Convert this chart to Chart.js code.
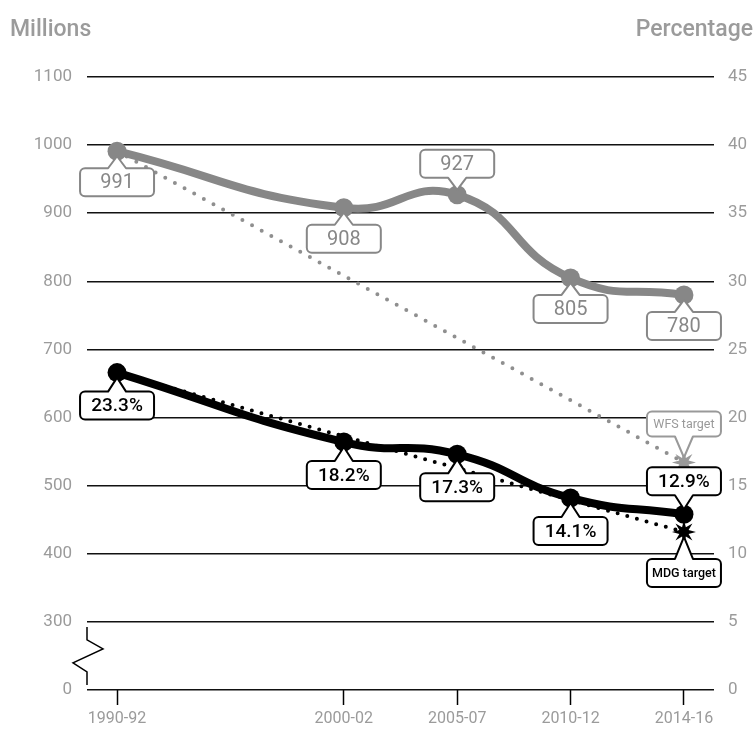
<!DOCTYPE html>
<html>
<head>
<meta charset="utf-8">
<script src="https://cdn.jsdelivr.net/npm/chart.js@4.4.1/dist/chart.umd.min.js"></script>
<style>
  body { margin: 0; background: #fff; }
  #wrap { width: 754px; height: 729px; }
</style>
</head>
<body>
<div id="wrap"><canvas id="hungerChart" width="754" height="729"></canvas></div>
<script>
// periods on the time axis (position counts 5-year steps, 1995-97 left blank)
const periods = ['1990-92', '2000-02', '2005-07', '2010-12', '2014-16'];
const periodPos = [0, 2, 3, 4, 5];

// undernourished people, millions (left axis)
const undernourished = [991, 908, 927, 805, 780];
// prevalence of undernourishment, % (right axis)
const prevalence = [23.3, 18.2, 17.3, 14.1, 12.9];

// targets for 2014-16
const wfsTarget = 534;   // millions
const mdgTarget = 11.6;  // percent

const leftTicks = [200, 300, 400, 500, 600, 700, 800, 900, 1000, 1100];
const leftTickLabels = ['0', '300', '400', '500', '600', '700', '800', '900', '1000', '1100'];

const GREY = '#878787';
const LABEL_GREY = '#9b9b9b';
const FONT = 'Roboto, "DejaVu Sans", sans-serif';

function pts(ys) {
    return ys.map((y, i) => ({ x: periodPos[i], y: y }));
}

// rounded box with a little pointer towards (px, py)
function callout(ctx, px, py, side, w, h, gap, color, text, font) {
    const x0 = px - w / 2;
    const r = 5;
    const nw = 9;
    let top, apexY;
    if (side === 'below') {
        top = py + gap;
        apexY = py + 5;
    } else {
        top = py - gap - h;
        apexY = py - 5;
    }
    const bot = top + h;
    ctx.save();
    ctx.beginPath();
    ctx.moveTo(x0 + r, top);
    if (side === 'below') {
        ctx.lineTo(px - nw, top);
        ctx.lineTo(px, apexY);
        ctx.lineTo(px + nw, top);
    }
    ctx.lineTo(x0 + w - r, top);
    ctx.arcTo(x0 + w, top, x0 + w, top + r, r);
    ctx.lineTo(x0 + w, bot - r);
    ctx.arcTo(x0 + w, bot, x0 + w - r, bot, r);
    if (side === 'above') {
        ctx.lineTo(px + nw, bot);
        ctx.lineTo(px, apexY);
        ctx.lineTo(px - nw, bot);
    }
    ctx.lineTo(x0 + r, bot);
    ctx.arcTo(x0, bot, x0, bot - r, r);
    ctx.lineTo(x0, top + r);
    ctx.arcTo(x0, top, x0 + r, top, r);
    ctx.closePath();
    ctx.fillStyle = '#fff';
    ctx.fill();
    ctx.lineWidth = 2;
    ctx.lineJoin = 'round';
    ctx.strokeStyle = color;
    ctx.stroke();
    ctx.fillStyle = color;
    ctx.font = font;
    ctx.textAlign = 'center';
    ctx.textBaseline = 'middle';
    ctx.fillText(text, px, top + h / 2 + 1);
    ctx.restore();
}

function starburst(ctx, x, y, color) {
    const n = 8, ro = 12, ri = 5;
    ctx.save();
    ctx.beginPath();
    for (let i = 0; i < n * 2; i++) {
        const a = -Math.PI / 2 + i * Math.PI / n;
        const r = i % 2 === 0 ? ro : ri;
        const sx = x + r * Math.cos(a), sy = y + r * Math.sin(a);
        if (i === 0) ctx.moveTo(sx, sy); else ctx.lineTo(sx, sy);
    }
    ctx.closePath();
    ctx.fillStyle = color;
    ctx.fill();
    ctx.restore();
}

// axis titles, broken-axis mark, callouts and target stars
const decorations = {
    id: 'decorations',
    afterDraw(chart) {
        const ctx = chart.ctx;
        const area = chart.chartArea;
        const yl = chart.scales.yLeft;

        ctx.save();
        ctx.fillStyle = LABEL_GREY;
        ctx.font = '500 23px ' + FONT;
        ctx.textBaseline = 'middle';
        ctx.textAlign = 'left';
        ctx.fillText('Millions', 10, 30);
        ctx.textAlign = 'right';
        ctx.fillText('Percentage', 753, 30);

        // axis break between 0 and 300
        const t = yl.getPixelForValue(300);
        const b = yl.getPixelForValue(200);
        const x = area.left;
        ctx.beginPath();
        ctx.moveTo(x, t + 5);
        ctx.lineTo(x, t + 18);
        ctx.lineTo(x + 16, t + 27);
        ctx.lineTo(x - 14, t + 41);
        ctx.lineTo(x, t + 50);
        ctx.lineTo(x, b - 5);
        ctx.strokeStyle = '#000';
        ctx.lineWidth = 1.5;
        ctx.stroke();
        ctx.restore();

        const grey = chart.getDatasetMeta(0).data;
        const black = chart.getDatasetMeta(1).data;
        const wfs = chart.getDatasetMeta(2).data[1];
        const mdg = chart.getDatasetMeta(3).data[1];

        starburst(ctx, wfs.x, wfs.y, '#999');
        starburst(ctx, mdg.x, mdg.y, '#000');

        const greySide = ['below', 'below', 'above', 'below', 'below'];
        const blackSide = ['below', 'below', 'below', 'below', 'above'];
        grey.forEach((p, i) => {
            callout(ctx, p.x, p.y, greySide[i], 74, 28, 17, GREY, String(undernourished[i]), '20px ' + FONT);
        });
        black.forEach((p, i) => {
            callout(ctx, p.x, p.y, blackSide[i], 74, 28, 19, '#000', prevalence[i].toFixed(1) + '%', '500 19px ' + FONT);
        });
        callout(ctx, wfs.x, wfs.y, 'above', 74, 25, 26, '#999', 'WFS target', '12.5px ' + FONT);
        callout(ctx, mdg.x, mdg.y, 'below', 74, 28, 27, '#000', 'MDG target', '500 12.5px ' + FONT);
    }
};

const ctx = document.getElementById('hungerChart');
new Chart(ctx, {
    type: 'line',
    data: {
        datasets: [
            {
                label: 'Millions',
                data: pts(undernourished),
                yAxisID: 'yLeft',
                borderColor: GREY,
                backgroundColor: GREY,
                borderWidth: 8,
                pointRadius: 9.5,
                pointBorderWidth: 0,
                tension: 0.5,
                order: 1
            },
            {
                label: 'Percentage',
                data: pts(prevalence),
                yAxisID: 'yRight',
                borderColor: '#000',
                backgroundColor: '#000',
                borderWidth: 8,
                pointRadius: 9.5,
                pointBorderWidth: 0,
                tension: 0.5,
                order: 0
            },
            {
                label: 'WFS target',
                data: [{ x: periodPos[0], y: undernourished[0] }, { x: periodPos[4], y: wfsTarget }],
                yAxisID: 'yLeft',
                borderColor: '#8f8f8f',
                borderWidth: 4,
                borderDash: [0, 11],
                borderCapStyle: 'round',
                pointRadius: 0,
                order: 3
            },
            {
                label: 'MDG target',
                data: [{ x: periodPos[0], y: prevalence[0] }, { x: periodPos[4], y: mdgTarget }],
                yAxisID: 'yRight',
                borderColor: '#000',
                borderWidth: 4,
                borderDash: [0, 10],
                borderCapStyle: 'round',
                pointRadius: 0,
                order: 2
            }
        ]
    },
    options: {
        responsive: false,
        animation: false,
        layout: { padding: { top: 77, left: 0, right: 0, bottom: 0 } },
        plugins: {
            legend: { display: false },
            tooltip: { enabled: false }
        },
        scales: {
            x: {
                type: 'linear',
                min: -0.265,
                max: 5.265,
                afterBuildTicks: (scale) => {
                    scale.ticks = periodPos.map(v => ({ value: v }));
                },
                afterFit: (scale) => { scale.height = 39; },
                border: { display: false },
                grid: {
                    drawOnChartArea: false,
                    drawTicks: true,
                    tickLength: 15,
                    tickColor: '#000',
                    tickWidth: 1.5
                },
                ticks: {
                    autoSkip: false,
                    maxRotation: 0,
                    padding: 4,
                    color: LABEL_GREY,
                    font: { family: FONT, size: 16 },
                    callback: (v) => periods[periodPos.indexOf(v)]
                }
            },
            yLeft: {
                type: 'linear',
                position: 'left',
                min: 200,
                max: 1100,
                afterBuildTicks: (scale) => {
                    scale.ticks = leftTicks.map(v => ({ value: v }));
                },
                afterFit: (scale) => { scale.width = 87; },
                border: { display: false },
                grid: { color: '#111', lineWidth: 1.5, drawTicks: false },
                ticks: {
                    padding: 15,
                    color: LABEL_GREY,
                    font: { family: FONT, size: 17 },
                    callback: (v) => leftTickLabels[leftTicks.indexOf(v)]
                }
            },
            yRight: {
                type: 'linear',
                position: 'right',
                min: 0,
                max: 45,
                afterFit: (scale) => { scale.width = 40; },
                border: { display: false },
                grid: { drawOnChartArea: false, drawTicks: false },
                ticks: {
                    stepSize: 5,
                    padding: 14,
                    color: LABEL_GREY,
                    font: { family: FONT, size: 17 }
                }
            }
        }
    },
    plugins: [decorations]
});
</script>
</body>
</html>
